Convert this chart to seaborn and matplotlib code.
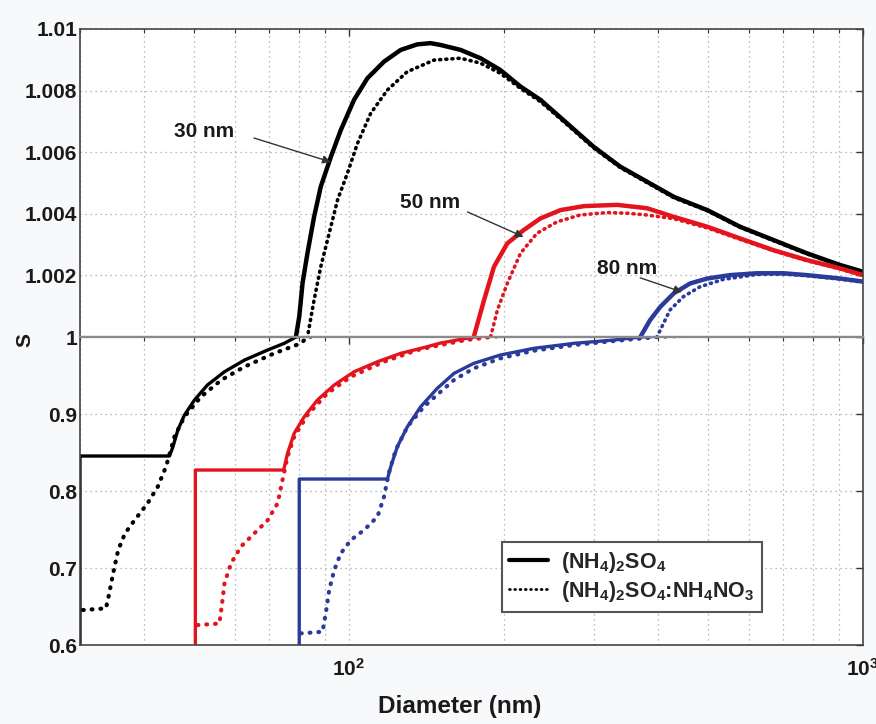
import matplotlib
matplotlib.use("Agg")
import matplotlib.pyplot as plt
from matplotlib.lines import Line2D
from matplotlib.ticker import LogLocator, NullFormatter
import seaborn as sns

# Köhler curves: saturation ratio S vs wet diameter (nm), dry sizes 30 / 50 / 80 nm
# solid = (NH4)2SO4, dotted = (NH4)2SO4:NH4NO3
as30_d = [30, 30, 44.8, 45.5, 46.5, 47.9, 50.1, 53.1, 57.3, 62.7, 69.5, 74.9, 78.9,
          80.1, 81.3, 83.1, 85.6, 88.2, 92.3, 96.5, 102.4, 108.7, 117.1, 126.2, 135.9, 144.2,
          150.9, 165.0, 180.4, 197.1, 215.8, 235.9, 265.7, 299.2, 337.4, 380.5, 428.9, 498.2,
          577.0, 669.9, 777.8, 902.3, 1000]
as30_s = [0.6, 0.8455, 0.8455, 0.8576, 0.8792, 0.8987, 0.9182, 0.9377, 0.9549, 0.9701, 0.9831,
          0.9918, 1.0,
          1.00066, 1.00175, 1.00272, 1.0039, 1.00488, 1.00585, 1.00672, 1.0077, 1.0084, 1.00894,
          1.00932, 1.0095, 1.00954, 1.00948, 1.00932, 1.00905, 1.00867, 1.00813, 1.0077, 1.00694,
          1.00618, 1.00553, 1.00504, 1.00455, 1.00412, 1.00358, 1.00315, 1.00272, 1.00234,
          1.00212]

mix30_d = [30.4, 33.7, 34.1, 34.8, 35.6, 36.7, 38.3, 40.6, 42.5, 44.1, 45.8, 47.9, 51.6, 56.5,
           62.7, 71.6, 80.7, 83.1,
           85.6, 88.2, 91.6, 95.1, 99.4, 104.0, 110.3, 118.9, 129.9, 146.5, 165.0, 180.4, 197.1,
           215.8, 236.0, 265.7, 299.2, 337.4, 380.5, 428.9, 498.2, 577.0, 669.9, 777.8, 902.3,
           1000]
mix30_s = [0.6455, 0.6477, 0.663, 0.693, 0.7234, 0.745, 0.762, 0.784, 0.8056, 0.8316, 0.8705,
           0.8965, 0.9225, 0.9442, 0.9615, 0.9788, 0.9918, 1.0,
           1.0012, 1.00228, 1.00337, 1.00445, 1.00532, 1.00629, 1.00726, 1.00802, 1.00861,
           1.00899, 1.00905, 1.00889, 1.00856, 1.00807, 1.00764, 1.0069, 1.00614, 1.0055,
           1.00501, 1.00452, 1.0041, 1.00356, 1.00313, 1.0027, 1.00232, 1.0021]

as50_d = [50.3, 50.3, 74.7, 76.0, 78.3, 81.9, 86.9, 93.7, 102.4, 113.7, 126.2, 142.1, 150.9,
          175.0, 183.3, 191.6, 203.4, 218.8, 235.9, 258.1, 286.9, 332.9, 380.5, 428.9, 498.2,
          577.0, 669.9, 777.8, 902.3, 1000]
as50_s = [0.6, 0.8273, 0.8273, 0.8489, 0.8749, 0.8965, 0.9182, 0.9377, 0.9549, 0.9679, 0.9788,
          0.9874, 0.9922, 1.0, 1.0012, 1.00228, 1.00304, 1.00347, 1.00385, 1.00412, 1.00425,
          1.00429, 1.00418, 1.0039, 1.00358, 1.0032, 1.00282, 1.0025, 1.00223, 1.00201]

mix50_d = [50.8, 56.0, 56.6, 57.3, 59.0, 61.7, 65.5, 69.5, 72.7, 74.3, 76.0, 78.3, 83.1, 90.9,
           100.9, 117.1, 135.9, 150.9, 168.8, 188.7, 194.6, 203.4, 215.8, 232.4, 254.2, 281.6,
           318.2, 347.6, 380.5, 428.9, 498.2, 577.0, 669.9, 777.8, 902.3, 1000]
mix50_s = [0.626, 0.628, 0.650, 0.680, 0.706, 0.728, 0.745, 0.762, 0.784, 0.814, 0.8445,
           0.8705, 0.8987, 0.9269, 0.9484, 0.9679, 0.9831, 0.9896, 0.996, 1.0, 1.00088, 1.00174,
           1.00272, 1.00337, 1.00374, 1.00396, 1.00404, 1.00402, 1.00396, 1.00384, 1.00354,
           1.00317, 1.0028, 1.00248, 1.00221, 1.00199]

as80_d = [80.1, 80.1, 118.9, 120.7, 124.3, 130.0, 138.0, 148.6, 160.2, 175.0, 197.1, 229.0,
          274.0, 327.8, 369.0, 385.6, 403.6, 428.9, 461.4, 498.2, 551.6, 621.4, 701.0, 777.8,
          902.3, 1000]
as80_s = [0.6, 0.8156, 0.8156, 0.8316, 0.8576, 0.8835, 0.9095, 0.9333, 0.9528, 0.9658, 0.9766,
          0.9853, 0.9918, 0.9961, 1.0, 1.00055, 1.00098, 1.00142, 1.00174, 1.0019, 1.00201,
          1.00207, 1.00207, 1.00201, 1.0019, 1.0018]

mix80_d = [80.7, 88.9, 90.2, 91.6, 93.7, 96.5, 100.9, 107.1, 113.7, 117.1, 119.6, 123.4, 130.0,
           140.0, 150.9, 160.2, 175.0, 197.1, 229.0, 274.0, 327.8, 397.5, 421.7, 447.6, 482.0,
           535.0, 621.4, 701.0, 777.8, 902.3, 1000]
mix80_s = [0.6152, 0.6173, 0.641, 0.6714, 0.6974, 0.7191, 0.7364, 0.7494, 0.7667, 0.7926,
           0.8229, 0.8532, 0.8835, 0.9095, 0.929, 0.9442, 0.9593, 0.9723, 0.9822, 0.9896, 0.9948,
           1.0, 1.00088, 1.00131, 1.00163, 1.00187, 1.00203, 1.00204, 1.00199, 1.00188, 1.00178]

top_ticks = [1.002, 1.004, 1.006, 1.008, 1.01]
top_labels = ["1.002", "1.004", "1.006", "1.008", "1.01"]
bot_ticks = [0.6, 0.7, 0.8, 0.9, 1.0]
bot_labels = ["0.6", "0.7", "0.8", "0.9", "1"]
legend_labels = [r"(NH$_4$)$_2$SO$_4$", r"(NH$_4$)$_2$SO$_4$:NH$_4$NO$_3$"]

# label text, text centre, arrow tail, arrow tip (diameter, S)
notes = [("30 nm", (52.3, 1.00666), (65.4, 1.00646), (92.3, 1.00568)),
         ("50 nm", (144.2, 1.00438), (170.2, 1.00406), (218.8, 1.00325)),
         ("80 nm", (348, 1.00224), (369, 1.00192), (445, 1.00146))]

RED = "#e3141d"
BLUE = "#2b3b9b"

sns.set_theme(style="white")
plt.rcParams["font.family"] = ["Liberation Sans", "DejaVu Sans"]
plt.rcParams["font.weight"] = "bold"
plt.rcParams["mathtext.fontset"] = "custom"
plt.rcParams["mathtext.rm"] = "Liberation Sans:bold"
plt.rcParams["mathtext.bf"] = "Liberation Sans:bold"
plt.rcParams["mathtext.it"] = "Liberation Sans:bold"
plt.rcParams["mathtext.default"] = "bf"

fig, (ax_top, ax_bot) = plt.subplots(2, 1, sharex=True, figsize=(8.76, 7.24), dpi=100)
fig.patch.set_facecolor("#f8f9fb")
fig.subplots_adjust(left=0.0913, right=0.985, top=0.96, bottom=0.109, hspace=0)

series = [(as30_d, as30_s, "black", "-"), (mix30_d, mix30_s, "black", ":"),
          (as50_d, as50_s, RED, "-"), (mix50_d, mix50_s, RED, ":"),
          (as80_d, as80_s, BLUE, "-"), (mix80_d, mix80_s, BLUE, ":")]

# top panel: thick solid + dense dots; bottom: thinner solid + coarser dots
panel_styles = [(ax_top, 3.2, 2.6, (0, (0.3, 1.4))),
                (ax_bot, 2.4, 3.0, (0, (0.2, 1.9)))]

for ax, lw_solid, lw_dot, dot in panel_styles:
    for d, s, c, ls in series:
        if ls == "-":
            sns.lineplot(x=d, y=s, ax=ax, color=c, linewidth=lw_solid,
                         sort=False, estimator=None, legend=False)
        else:
            sns.lineplot(x=d, y=s, ax=ax, color=c, linestyle=dot, linewidth=lw_dot,
                         sort=False, estimator=None, legend=False, dash_capstyle="round")
    ax.set_facecolor("white")
    ax.set_xscale("log")
    ax.set_xlim(30, 1000)
    ax.xaxis.set_major_locator(LogLocator(base=10))
    ax.xaxis.set_minor_locator(LogLocator(base=10, subs=range(2, 10)))
    ax.xaxis.set_minor_formatter(NullFormatter())
    ax.grid(True, which="both", axis="x", linestyle=(0, (1, 3)), color="#a5a5a5", linewidth=0.9)
    ax.grid(True, which="major", axis="y", linestyle=(0, (1, 3)), color="#a5a5a5", linewidth=0.9)
    ax.tick_params(which="both", direction="in", top=True, right=True, colors="#333333",
                   labelcolor="#1a1a1a", labelsize=15)
    ax.tick_params(which="major", length=5, width=1)
    ax.tick_params(which="minor", length=3, width=0.8)
    ax.tick_params(axis="y", pad=2)
    ax.tick_params(axis="x", pad=9)
    for sp in ax.spines.values():
        sp.set_color("#444444")
        sp.set_linewidth(1.2)
    ax.set_ylabel("")
    ax.set_xlabel("")

ax_top.set_ylim(1.0, 1.01)
ax_top.set_yticks(top_ticks)
ax_top.set_yticklabels(top_labels)
ax_top.tick_params(axis="x", labelbottom=False)
ax_top.spines["bottom"].set_color("#8a8a8a")
ax_top.spines["bottom"].set_linewidth(1.6)

ax_bot.set_ylim(0.6, 1.0)
ax_bot.set_yticks(bot_ticks)
ax_bot.set_yticklabels(bot_labels)
ax_bot.spines["top"].set_color("#8a8a8a")
ax_bot.spines["top"].set_linewidth(1.6)
ax_bot.set_xlabel("Diameter (nm)", fontsize=17.5, fontweight="bold", labelpad=11,
                  color="#1a1a1a")
ax_bot.xaxis.label.set_x(0.485)

for txt, pos, tail, tip in notes:
    ax_top.text(pos[0], pos[1], txt, ha="center", va="center", fontsize=15,
                fontweight="bold", color="#1a1a1a")
    ax_top.annotate("", xy=tip, xytext=tail,
                    arrowprops=dict(arrowstyle="-|>", color="#333333", lw=1.0,
                                    mutation_scale=12, shrinkA=0, shrinkB=0))

fig.text(0.029, 0.530, "S", rotation=90, ha="center", va="center", fontsize=15,
         fontweight="bold", color="#1a1a1a")

handles = [Line2D([], [], color="black", linewidth=3.0),
           Line2D([], [], color="black", linewidth=2.0, linestyle=(0, (0.3, 1.6)),
                  dash_capstyle="round")]
leg = ax_bot.legend(handles, legend_labels, loc="upper left", bbox_to_anchor=(0.539, 0.334),
                    fancybox=False, framealpha=1, edgecolor="#555555", fontsize=15.5,
                    handlelength=1.8, handletextpad=0.6, borderpad=0.35, labelspacing=0.2,
                    borderaxespad=0)
leg.get_frame().set_linewidth(1.5)

fig.savefig("out.png", dpi=100, facecolor=fig.get_facecolor())
